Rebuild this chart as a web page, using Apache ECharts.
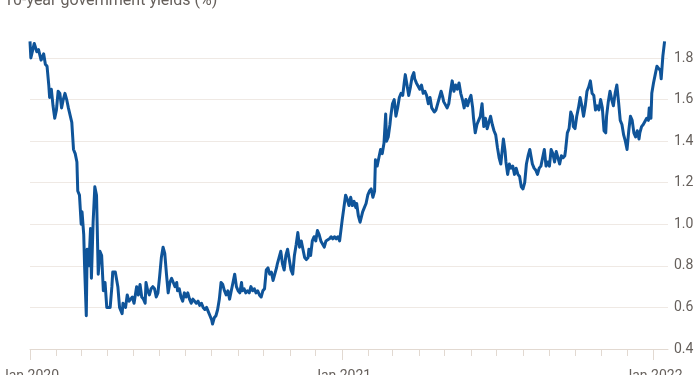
<!DOCTYPE html>
<html>
<head>
<meta charset="utf-8">
<script src="https://cdn.jsdelivr.net/npm/echarts@6/dist/echarts.min.js"></script>
<style>
  html, body { margin: 0; padding: 0; background: #ffffff; }
  #chart { width: 700px; height: 375px; }
</style>
</head>
<body>
<div id="chart"></div>
<script>
// US 10-year government bond yield (%). Each pair: [days since 1 Jan 2020, yield]
const yields2020H1 = [[0,1.88],[1,1.80],[5,1.87],[8,1.83],[10,1.84],[13,1.79],[16,1.82],[18,1.77],[20,1.76],[22,1.67],[23,1.61],[25,1.65],[27,1.57],[29,1.51],[31,1.55],[33,1.64],[35,1.63],[37,1.56],[39,1.60],[41,1.63],[43,1.60],[45,1.56],[47,1.56],[49,1.49],[51,1.36],[53,1.34],[55,1.30],[56,1.16],[58,1.14],[60,1.00],[61,1.06],[63,0.95],[64,0.80],[66,0.56],[67,0.88],[69,0.80],[71,0.98],[72,0.74],[74,1.01],[76,1.18],[78,1.14],[80,0.76],[82,0.87],[84,0.85],[86,0.68],[88,0.72],[90,0.60],[94,0.60],[96,0.70],[97,0.77],[100,0.77],[103,0.70],[105,0.60],[108,0.57],[109,0.62],[112,0.60],[114,0.66],[116,0.63],[118,0.64],[120,0.65],[122,0.62],[125,0.70],[127,0.66],[129,0.71],[131,0.65],[133,0.64],[135,0.62],[136,0.72],[138,0.68],[140,0.66],[142,0.69],[144,0.70],[146,0.69],[148,0.65],[150,0.67],[152,0.75],[154,0.84],[156,0.89],[158,0.86],[160,0.76],[162,0.67],[164,0.72],[166,0.74],[168,0.72],[170,0.70],[172,0.72],[173,0.68],[175,0.69],[177,0.65],[179,0.63],[181,0.67]];
const yields2020H2 = [[183,0.65],[185,0.67],[187,0.64],[189,0.62],[191,0.64],[193,0.63],[195,0.62],[197,0.63],[199,0.61],[201,0.62],[203,0.60],[205,0.59],[207,0.60],[209,0.58],[211,0.56],[213,0.54],[214,0.52],[216,0.55],[218,0.56],[220,0.59],[222,0.64],[224,0.72],[226,0.71],[228,0.68],[230,0.66],[232,0.68],[234,0.64],[236,0.68],[238,0.72],[240,0.76],[242,0.70],[244,0.68],[246,0.67],[248,0.72],[249,0.68],[251,0.69],[253,0.67],[255,0.68],[257,0.67],[259,0.70],[261,0.68],[263,0.69],[265,0.67],[267,0.68],[269,0.66],[271,0.65],[273,0.68],[275,0.69],[277,0.78],[279,0.79],[281,0.76],[283,0.77],[285,0.73],[287,0.76],[289,0.79],[290,0.81],[292,0.84],[294,0.87],[296,0.81],[298,0.78],[300,0.85],[302,0.88],[304,0.83],[306,0.78],[308,0.76],[310,0.85],[312,0.90],[314,0.96],[316,0.89],[318,0.92],[320,0.88],[322,0.84],[324,0.83],[326,0.84],[327,0.88],[329,0.85],[331,0.92],[333,0.94],[335,0.92],[337,0.97],[339,0.95],[341,0.92],[343,0.92],[345,0.89],[347,0.92],[349,0.92],[351,0.93],[353,0.94],[355,0.93],[357,0.94],[359,0.93],[361,0.94],[363,0.92],[365,0.92]];
const yields2021H1 = [[366,1.02],[368,1.08],[370,1.14],[372,1.12],[374,1.09],[376,1.13],[378,1.09],[380,1.11],[382,1.08],[383,1.10],[385,1.04],[387,1.01],[390,1.06],[392,1.08],[394,1.10],[396,1.14],[398,1.16],[400,1.17],[402,1.13],[404,1.16],[405,1.31],[407,1.28],[409,1.32],[411,1.36],[413,1.34],[415,1.39],[417,1.53],[418,1.40],[420,1.42],[422,1.48],[423,1.52],[425,1.58],[427,1.60],[429,1.52],[431,1.56],[433,1.61],[435,1.63],[437,1.62],[439,1.69],[440,1.72],[442,1.67],[444,1.62],[446,1.66],[448,1.71],[450,1.73],[451,1.70],[453,1.68],[455,1.68],[457,1.65],[459,1.67],[461,1.63],[463,1.64],[465,1.62],[467,1.58],[469,1.61],[471,1.56],[474,1.54],[476,1.55],[478,1.58],[480,1.61],[482,1.64],[484,1.61],[485,1.59],[489,1.56],[491,1.58],[493,1.64],[495,1.69],[497,1.64],[499,1.67],[501,1.65],[503,1.68],[505,1.63],[507,1.60],[509,1.56],[511,1.60],[513,1.57],[515,1.60],[517,1.62],[519,1.56],[520,1.51],[522,1.44],[524,1.48],[526,1.50],[528,1.52],[530,1.58],[532,1.47],[534,1.51],[536,1.46],[538,1.49],[540,1.52],[542,1.48],[544,1.45],[546,1.43]];
const yields2021H2 = [[548,1.37],[550,1.32],[552,1.29],[554,1.37],[555,1.41],[557,1.35],[558,1.30],[560,1.24],[562,1.29],[564,1.27],[566,1.28],[568,1.24],[570,1.27],[572,1.24],[574,1.23],[576,1.18],[578,1.17],[580,1.20],[582,1.29],[584,1.33],[586,1.36],[587,1.36],[589,1.29],[591,1.27],[593,1.26],[595,1.24],[597,1.27],[599,1.28],[601,1.32],[603,1.36],[605,1.28],[607,1.30],[609,1.28],[611,1.36],[613,1.34],[615,1.30],[617,1.35],[619,1.32],[621,1.29],[623,1.33],[625,1.32],[627,1.33],[628,1.36],[630,1.44],[632,1.46],[634,1.54],[636,1.52],[637,1.47],[639,1.46],[641,1.52],[643,1.56],[645,1.61],[647,1.57],[649,1.52],[651,1.57],[653,1.64],[655,1.66],[657,1.69],[659,1.63],[661,1.62],[663,1.55],[665,1.57],[667,1.55],[669,1.60],[671,1.56],[673,1.45],[675,1.44],[676,1.52],[678,1.59],[680,1.64],[682,1.60],[684,1.57],[686,1.63],[688,1.67],[690,1.59],[692,1.50],[694,1.48],[696,1.43],[698,1.40],[700,1.36],[702,1.45],[704,1.52],[706,1.50],[708,1.44],[710,1.42],[712,1.45],[714,1.41],[715,1.44],[717,1.47],[719,1.48],[721,1.48],[723,1.51],[725,1.50],[726,1.56],[728,1.51],[729,1.63]];
const yields2022 = [[731,1.68],[733,1.72],[735,1.76],[737,1.75],[739,1.74],[740,1.70],[742,1.81],[744,1.88]];

const yearLabels = ['Jan 2020', 'Jan 2021', 'Jan 2022'];
const titleText = '10-year government yields (%)';

const DAY = 86400000;
const BASE = Date.UTC(2020, 0, 1);
const monthDays = [];
for (let m = 0; m <= 24; m++) monthDays.push((Date.UTC(2020, m, 1) - BASE) / DAY);
const yearDays = [0, 1, 2].map(i => (Date.UTC(2020 + i, 0, 1) - BASE) / DAY);

const seriesData = [].concat(yields2020H1, yields2020H2, yields2021H1, yields2021H2, yields2022);

const textColor = '#66605c';
const gridColor = '#efe9e4';
const axisColor = '#e2d9d1';
const fontFamily = 'Roboto, "Open Sans", sans-serif';

const chart = echarts.init(document.getElementById('chart'), null, { renderer: 'canvas' });
chart.setOption({
  animation: false,
  backgroundColor: '#ffffff',
  title: {
    text: titleText,
    left: -1,
    top: -12,
    textStyle: { color: textColor, fontSize: 16, fontWeight: 'normal', fontFamily: fontFamily }
  },
  grid: { left: 30, right: 32, top: 58, bottom: 26, containLabel: false, outerBoundsMode: 'none' },
  xAxis: [
    {
      type: 'value', min: 0, max: 748,
      axisLine: { show: true, lineStyle: { color: axisColor, width: 1 } },
      axisTick: { show: true, length: 7, customValues: monthDays, lineStyle: { color: axisColor } },
      axisLabel: { show: false },
      splitLine: { show: false }
    },
    {
      type: 'value', min: 0, max: 748, position: 'bottom',
      axisLine: { show: false },
      axisTick: { show: true, length: 11, customValues: yearDays, lineStyle: { color: axisColor } },
      axisLabel: {
        show: true, customValues: yearDays, margin: 20,
        color: textColor, fontSize: 14, fontFamily: fontFamily,
        formatter: function (v) {
          const idx = yearDays.indexOf(Math.round(v));
          return idx >= 0 ? yearLabels[idx] : '';
        }
      },
      splitLine: { show: false }
    }
  ],
  yAxis: {
    type: 'value', position: 'right', min: 0.4, max: 1.8, interval: 0.2,
    axisLine: { show: false },
    axisTick: { show: false },
    axisLabel: {
      margin: 6, color: textColor, fontSize: 14, fontFamily: fontFamily,
      formatter: v => (Math.round(v * 10) / 10).toFixed(1)
    },
    splitLine: { show: true, lineStyle: { color: gridColor, width: 1 } }
  },
  series: [{
    type: 'line',
    xAxisIndex: 0,
    data: seriesData,
    showSymbol: false,
    clip: false,
    lineStyle: { color: '#0f5499', width: 3, join: 'round' },
    emphasis: { disabled: true }
  }]
});
</script>
</body>
</html>
